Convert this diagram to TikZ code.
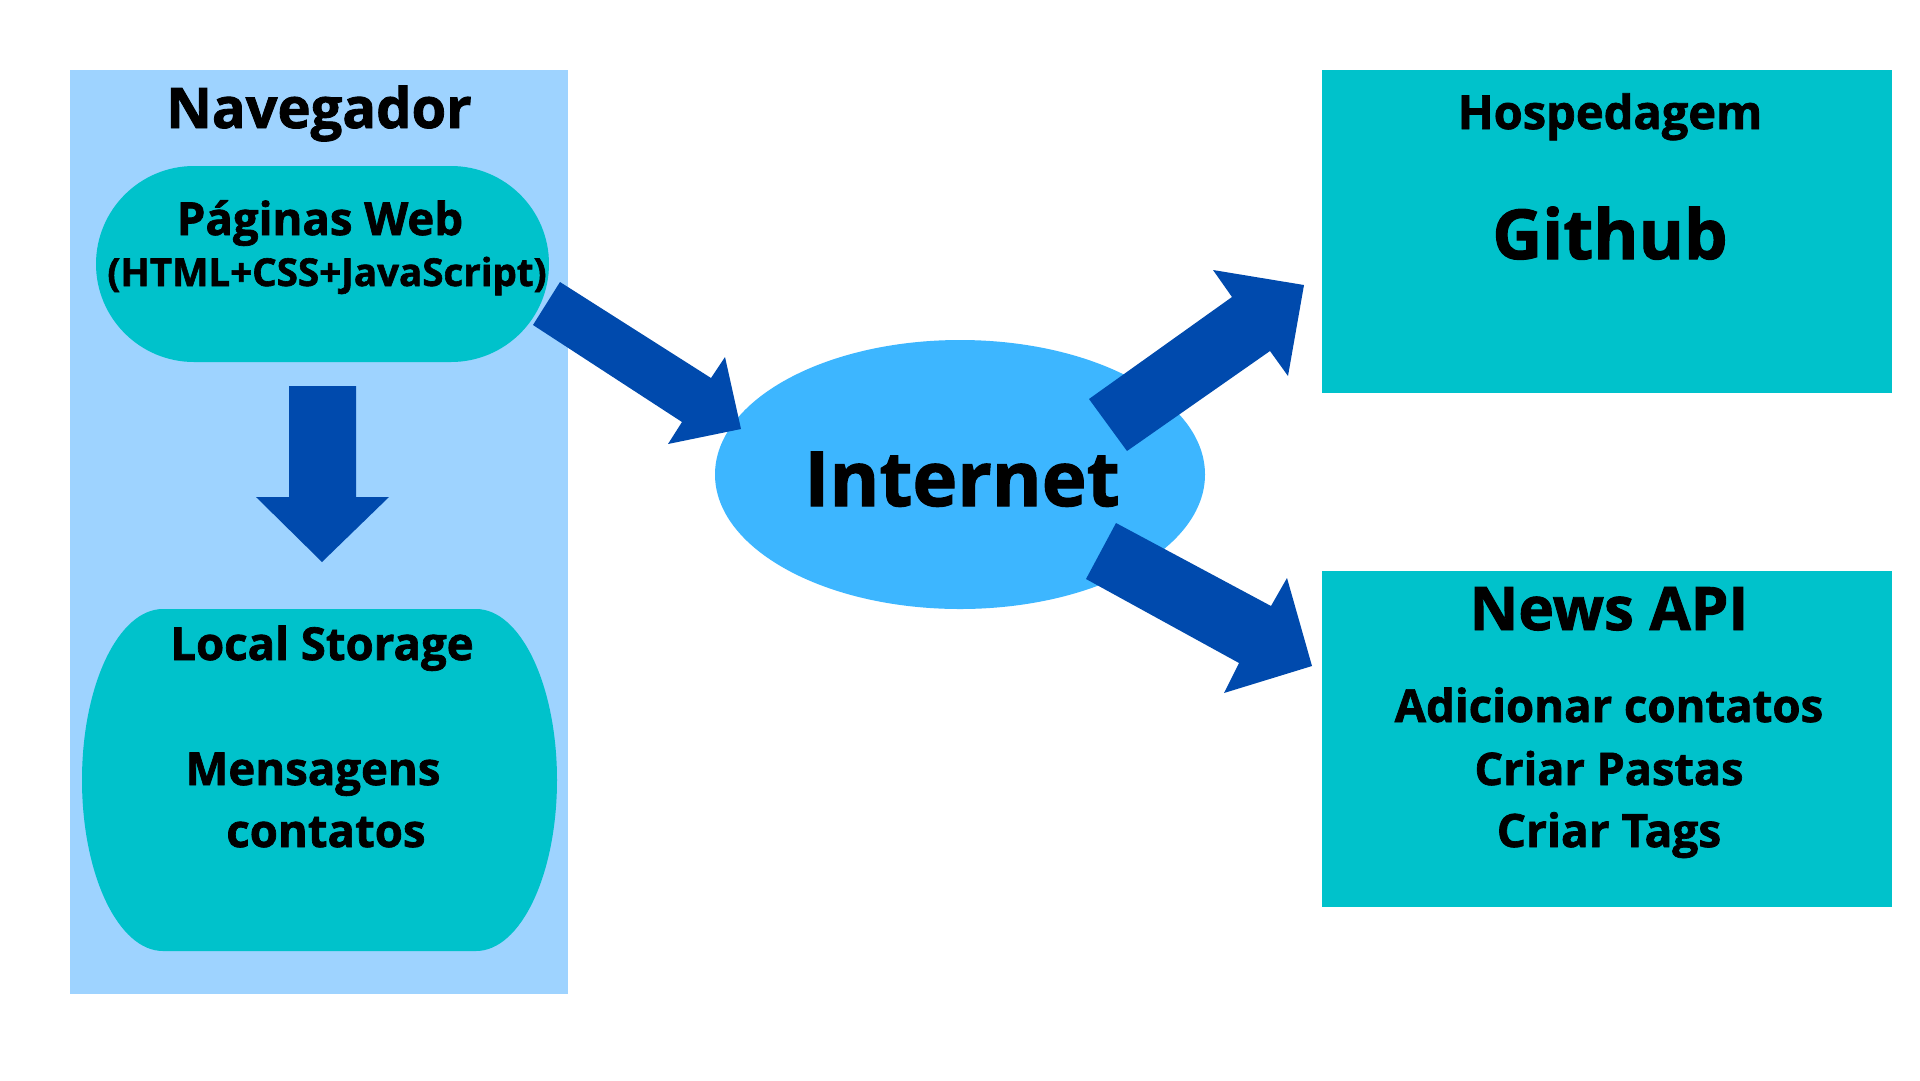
\documentclass[tikz,border=0pt]{standalone}
\usepackage{fontspec}
\setmainfont{Open Sans}[BoldFeatures={FakeBold=1.5}]
\usetikzlibrary{shapes.geometric}
\definecolor{navbg}{HTML}{9ED3FF}
\definecolor{teal}{HTML}{00C2CB}
\definecolor{netblue}{HTML}{3DB6FF}
\definecolor{arrowblue}{HTML}{004AAD}
\newcommand{\fs}[1]{\fontsize{#1pt}{#1pt}\selectfont\bfseries}
\tikzset{
  label/.style={anchor=base, inner sep=0pt, text=black},
  blockarrow/.style={fill=arrowblue, draw=none},
  panel/.style={fill=#1, draw=none, inner sep=0pt, outer sep=0pt}
}
\begin{document}
\begin{tikzpicture}[x=1pt,y=-1pt]
\useasboundingbox (0,0) rectangle (1920,1080);
\fill[white] (0,0) rectangle (1920,1080);
% Navegador panel
\node[panel=navbg, minimum width=498pt, minimum height=924pt] (nav) at (319,532) {};
% Paginas Web pill
\node[panel=teal, minimum width=453pt, minimum height=196pt, rounded corners=98pt] (pages) at (322.5,264) {};
% Local Storage shape
\path[fill=teal] (476,609) arc[start angle=90, end angle=-90, x radius=81pt, y radius=171pt]
  -- (163,951) arc[start angle=-90, end angle=-270, x radius=81pt, y radius=171pt] -- cycle;
\coordinate (storage) at (319.5,780);
% Internet ellipse
\node[panel=netblue, ellipse, minimum width=490pt, minimum height=269pt] (net) at (960,474.5) {};
% right boxes
\node[panel=teal, minimum width=570pt, minimum height=323pt] (host) at (1607,231.5) {};
\node[panel=teal, minimum width=570pt, minimum height=336pt] (news) at (1607,739) {};
% texts
\node[label] (tnav) at (319,128) {\fs{56}Navegador};
\node[label] (tpages) at (320,235) {\fs{45.5}Páginas Web};
\node[label] (thtml) at (327,286) {\fs{38.5}(HTML+CSS+JavaScript)};
\node[label] (tls) at (322,660) {\fs{45.5}Local Storage};
\node[label] (tmsg) at (313,785) {\fs{45.5}Mensagens};
\node[label] (tcont) at (326,847) {\fs{45.5}contatos};
\node[label] (thost) at (1610,129) {\fs{47}Hospedagem};
\node[label] (tgit) at (1610,259) {\fs{69}Github};
\node[label] (tnet) at (962,506) {\fs{76}Internet};
\node[label] (tnews) at (1609,630) {\fs{60}News API};
\node[label] (tadd) at (1609,722) {\fs{45.5}Adicionar contatos};
\node[label] (tpast) at (1609,785) {\fs{45}Criar Pastas};
\node[label] (ttags) at (1609,847) {\fs{46}Criar Tags};
% block arrows
\fill[blockarrow] (289,386) -- (356,386) -- (356,497) -- (389,497) -- (322,562) -- (256,497) -- (289,497) -- cycle;
\fill[blockarrow] (560,282) -- (711,378) -- (725,357) -- (741,429) -- (668,444) -- (682,422) -- (533,325) -- cycle;
\fill[blockarrow] (1089,399) -- (1232,297) -- (1213,270) -- (1304,285) -- (1288,376) -- (1270,351) -- (1127,451) -- cycle;
\fill[blockarrow] (1116,523) -- (1271,606) -- (1287,578) -- (1312,666) -- (1224,693) -- (1239,663) -- (1086,579) -- cycle;
\end{tikzpicture}
\end{document}
